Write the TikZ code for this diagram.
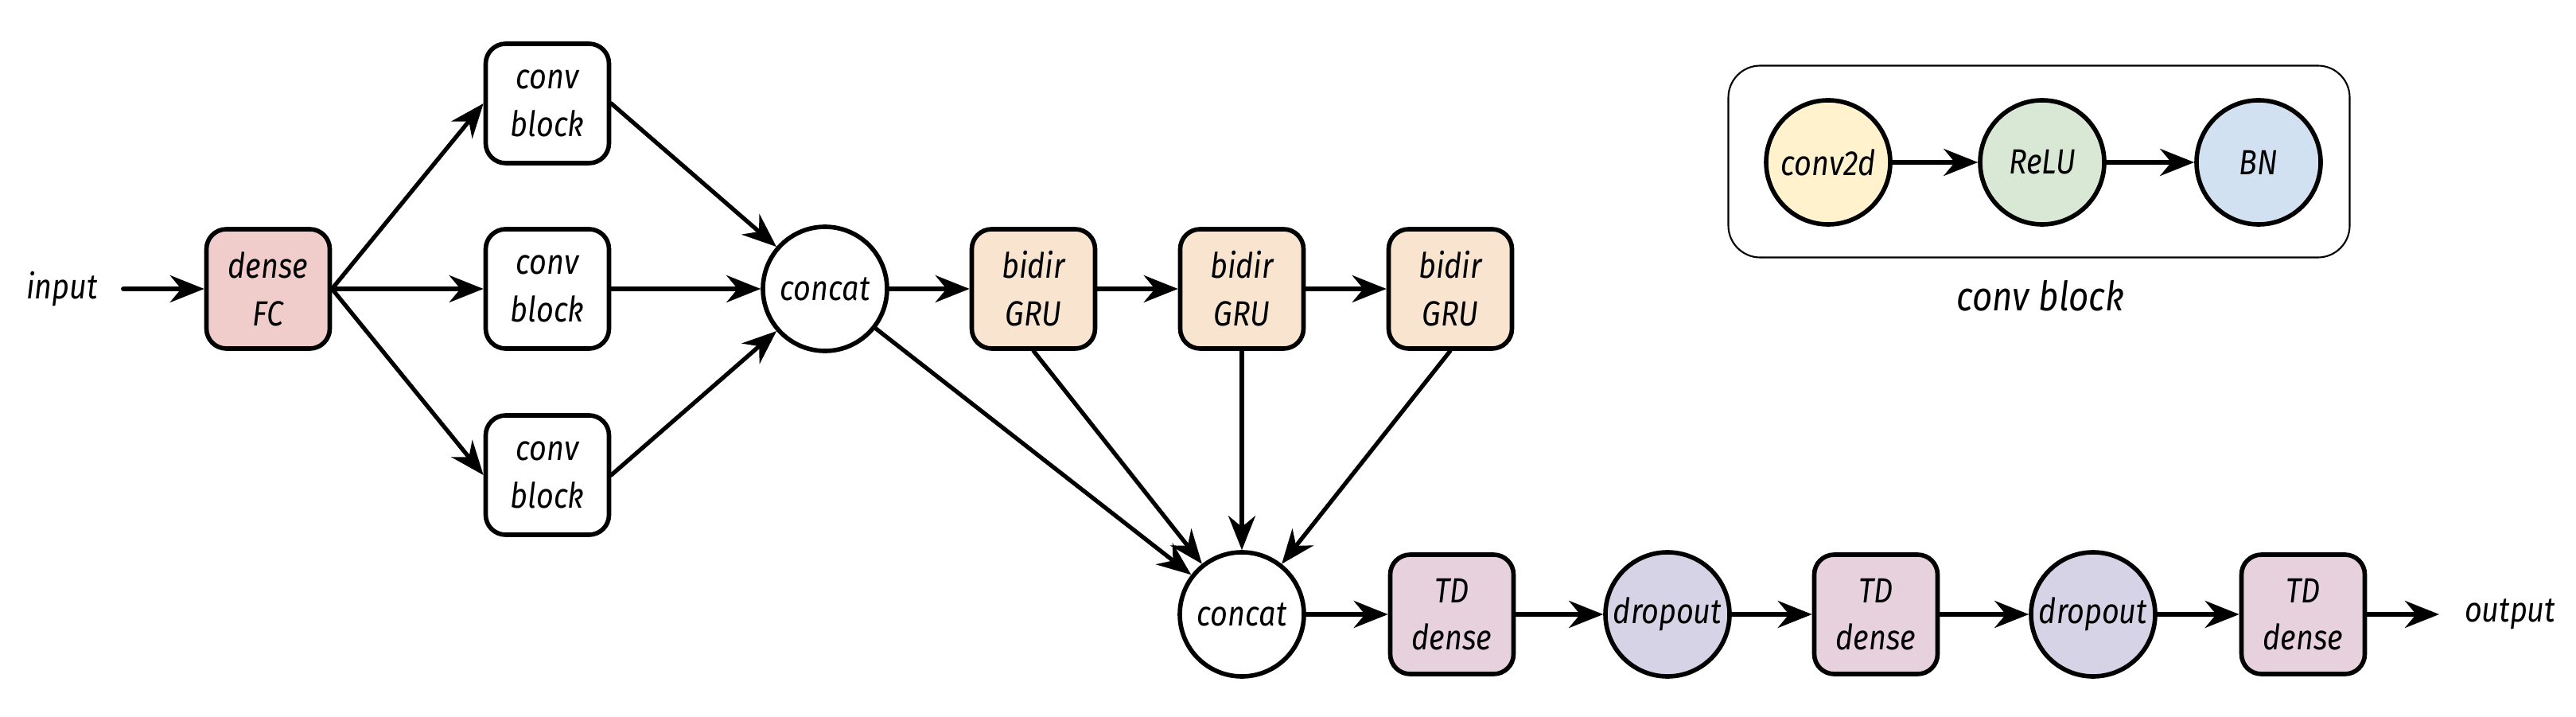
\documentclass[tikz,border=0pt]{standalone}
\usepackage{fontspec}
\setmainfont{Fira Sans}[FakeStretch=0.86]
\usetikzlibrary{arrows.meta}

\definecolor{fcred}{HTML}{F0CDCB}
\definecolor{grusand}{HTML}{F8E4CF}
\definecolor{tdmauve}{HTML}{E6D1DD}
\definecolor{droplilac}{HTML}{D6D3E6}
\definecolor{convyellow}{HTML}{FFF2CC}
\definecolor{relugreen}{HTML}{D9E8D4}
\definecolor{bnblue}{HTML}{D2E1F2}

\begin{document}
\begin{tikzpicture}[line cap=round, font=\itshape\fontsize{12.5}{17}\selectfont]

    % let's define some key values
    \def\ytop{5.37}
    \def\ybot{1.28}
    \def\ylegend{6.96}
    \def\xconv{6.88}

    % Styles
    \tikzstyle{layer}=[draw, line width=1.6pt, rounded corners=0.25cm, minimum width=1.55cm, minimum height=1.5cm, align=center, inner sep=2pt]
    \tikzstyle{op}=[draw, circle, line width=1.6pt, minimum size=1.56cm, inner sep=0pt]
    \tikzstyle{arr}=[-{Stealth[length=4.3mm,width=3.4mm,inset=1.4mm]}, line width=1.5pt]
    \tikzstyle{port}=[inner sep=0pt, outer sep=0.32cm]

    \useasboundingbox (0,0) rectangle (32.38,9);

    % input and dense layer
    \node[port] (input) at (0.78,\ytop) {input};
    \node[layer, fill=fcred] (dense) at (3.37,\ytop) {dense\\FC};

    % conv blocks
    \node[layer] (conva) at (\xconv,7.70) {conv\\block};
    \node[layer] (convb) at (\xconv,\ytop) {conv\\block};
    \node[layer] (convc) at (\xconv,3.03) {conv\\block};

    % first concat
    \node[op] (cata) at (10.37,\ytop) {concat};

    % recurrent layers
    \node[layer, fill=grusand] (grua) at (12.99,\ytop) {bidir\\GRU};
    \node[layer, fill=grusand] (grub) at (15.61,\ytop) {bidir\\GRU};
    \node[layer, fill=grusand] (gruc) at (18.23,\ytop) {bidir\\GRU};

    % second concat and output head
    \node[op] (catb) at (15.61,\ybot) {concat};
    \node[layer, fill=tdmauve] (tda) at (18.25,\ybot) {TD\\dense};
    \node[op, fill=droplilac] (dropa) at (20.96,\ybot) {dropout};
    \node[layer, fill=tdmauve] (tdb) at (23.58,\ybot) {TD\\dense};
    \node[op, fill=droplilac] (dropb) at (26.31,\ybot) {dropout};
    \node[layer, fill=tdmauve] (tdc) at (28.95,\ybot) {TD\\dense};
    \node[port] (output) at (31.55,\ybot) {output};

    % legend
    \node[draw, line width=0.6pt, rounded corners=0.4cm, minimum width=7.81cm, minimum height=2.41cm] (legend) at (25.63,6.97) {};
    \node[op, fill=convyellow] (conv2d) at (22.98,\ylegend) {conv2d};
    \node[op, fill=relugreen] (relu) at (25.67,\ylegend) {ReLU};
    \node[op, fill=bnblue] (bn) at (28.39,\ylegend) {BN};
    \node (legendlabel) at (25.65,5.28) {\fontsize{14.5}{17}\selectfont conv block};

    % connectors
    \draw[arr] (input) -- (dense);
    \draw[arr] (dense.east) -- (conva.west);
    \draw[arr] (dense.east) -- (convb.west);
    \draw[arr] (dense.east) -- (convc.west);
    \draw[arr] (conva.east) -- (cata);
    \draw[arr] (convb.east) -- (cata);
    \draw[arr] (convc.east) -- (cata);
    \draw[arr] (cata) -- (grua);
    \draw[arr] (grua) -- (grub);
    \draw[arr] (grub) -- (gruc);
    \draw[arr] (cata) -- (catb);
    \draw[arr] (grua.south) -- (catb);
    \draw[arr] (grub.south) -- (catb);
    \draw[arr] (gruc.south) -- (catb);
    \draw[arr] (catb) -- (tda);
    \draw[arr] (tda) -- (dropa);
    \draw[arr] (dropa) -- (tdb);
    \draw[arr] (tdb) -- (dropb);
    \draw[arr] (dropb) -- (tdc);
    \draw[arr] (tdc) -- (output);
    \draw[arr] (conv2d) -- (relu);
    \draw[arr] (relu) -- (bn);

\end{tikzpicture}
\end{document}
